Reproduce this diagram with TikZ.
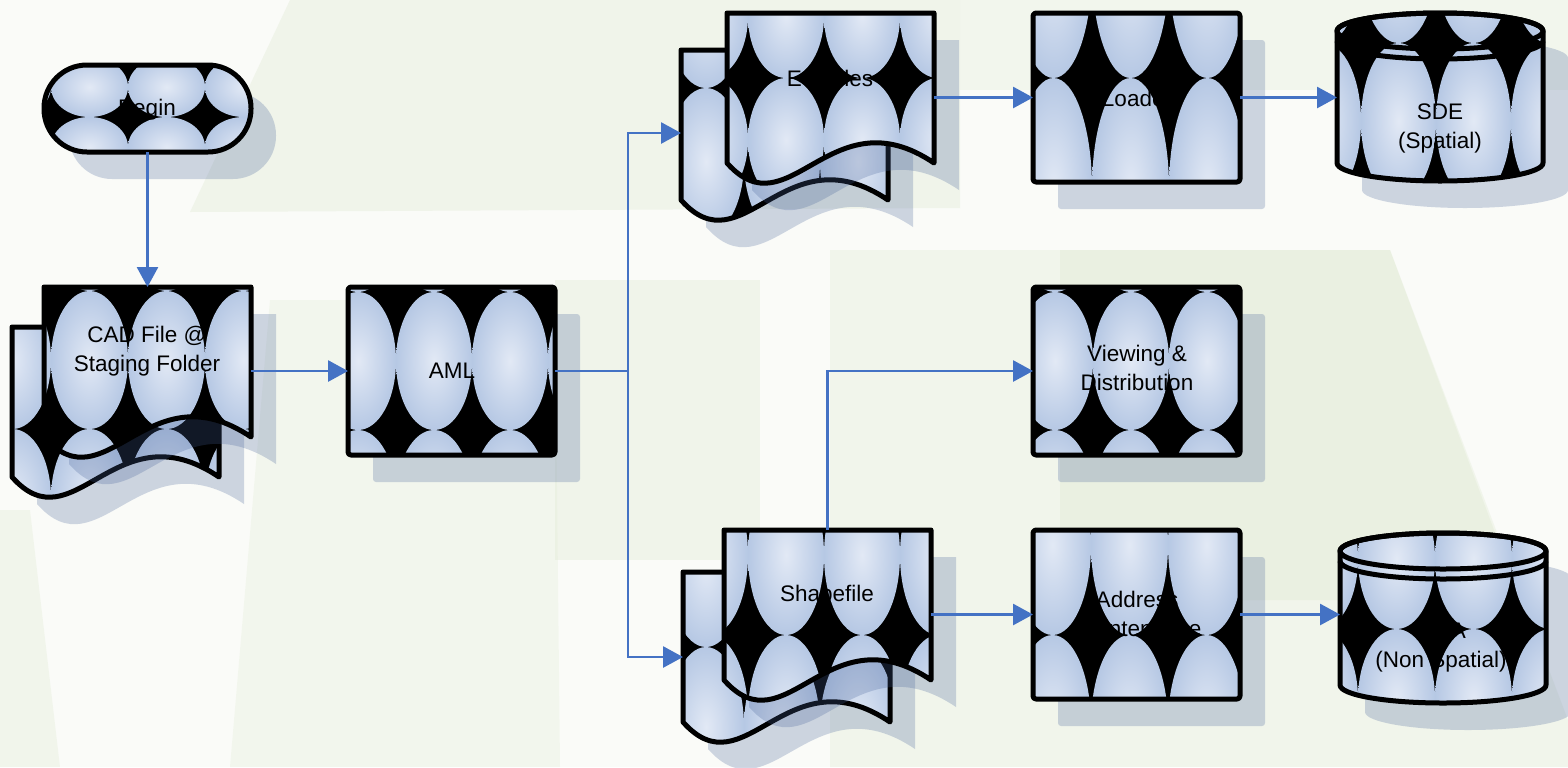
\documentclass[tikz,border=0pt]{standalone}
\usepackage{fontspec}
\setmainfont{Liberation Sans}
\usetikzlibrary{arrows.meta}
\definecolor{patin}{RGB}{226,233,245}
\definecolor{patout}{RGB}{182,200,228}
\definecolor{conblue}{RGB}{68,114,196}
\definecolor{shadc}{RGB}{68,96,152}
\definecolor{bgbase}{RGB}{250,251,248}
\definecolor{bggreen}{RGB}{222,233,208}
\tikzset{
  shad/.style={fill=shadc,fill opacity=0.25,draw=none},
  outl/.style={draw=black,line width=2.5pt,line join=round},
  anc/.style={inner sep=0pt,outer sep=0pt,draw=none},
  txt/.style={font=\fontsize{11.25}{14.5}\selectfont,align=center,inner sep=0pt,text=black},
  conn/.style={draw=conblue,line width=1.4pt,-{Triangle[length=10pt,width=10.5pt]}},
  bgpatch/.style={fill=bggreen,draw=none}
}
% grid of shaded ellipses on black: x0,y0,w,h,nx,ny
\newcommand{\patgrid}[6]{%
  \fill[black] (-50,-50) rectangle (1650,850);
  \foreach \ii in {1,...,#5}{\foreach \jj in {1,...,#6}{%
    \shade[inner color=patin,outer color=patout] ({#1+(\ii-0.5)*#3},{#2+(\jj-0.5)*#4}) ellipse[x radius={#3/2},y radius={#4/2}];}}}
% shadow + patterned fill + outline
\newcommand{\patshape}[7]{%
  \fill[shad,shift={(25,27)}] #1;
  \begin{scope}\clip #1;\patgrid{#2}{#3}{#4}{#5}{#6}{#7}\end{scope}
  \draw[outl] #1;}
\def\docpath#1#2#3{(#1,#2) -- ({#1+207},#2) -- ({#1+207},#3) .. controls ({#1+103.5},{#3-70}) and ({#1+62},{#3+70}) .. (#1,#3) -- cycle}
\def\boxpath#1#2#3#4{[rounded corners=1.5pt] (#1,#2) rectangle (#3,#4)}
\def\termpath{[rounded corners=21.5pt] (44,65) rectangle (251,152)}
\def\cylpath#1#2#3{({#1-103},#2) arc[start angle=180,end angle=360,x radius=103,y radius=18] -- ({#1+103},#3) arc[start angle=0,end angle=180,x radius=103,y radius=18] -- cycle}
\begin{document}
\begin{tikzpicture}[x=0.5pt,y=-0.5pt]
\useasboundingbox (0,0) rectangle (1568,767);
% background
\fill[bgbase] (0,0) rectangle (1568,767);
\fill[bgpatch,opacity=0.35] (290,0) -- (960,0) -- (960,208) -- (190,212) -- cycle;
\fill[bgpatch,opacity=0.25] (960,0) -- (1568,0) -- (1568,90) -- (960,90) -- cycle;
\fill[bgpatch,opacity=0.3] (830,250) -- (1390,250) -- (1568,720) -- (1568,767) -- (830,767) -- cycle;
\fill[bgpatch,opacity=0.35] (1060,250) -- (1390,250) -- (1520,600) -- (1060,600) -- cycle;
\fill[bgpatch,opacity=0.35] (555,280) -- (760,280) -- (760,560) -- (555,560) -- cycle;
\fill[bgpatch,opacity=0.25] (270,300) -- (555,300) -- (560,767) -- (230,767) -- cycle;
\fill[bgpatch,opacity=0.3] (0,510) -- (30,510) -- (60,767) -- (0,767) -- cycle;

% shapes
\patshape{\termpath}{-26}{57}{77}{60}{4}{2}
\patshape{\docpath{12}{327}{477}}{-26}{153}{77}{138}{4}{3}
\patshape{\docpath{44}{287}{437}}{-26}{153}{77}{138}{4}{3}
\patshape{\boxpath{348}{287}{555}{455}}{320}{154}{76}{138}{4}{3}
\patshape{\docpath{681}{50}{200}}{668}{-59}{76}{147}{3}{3}
\patshape{\docpath{727}{13}{163}}{672}{-46}{76}{124}{4}{3}
\patshape{\boxpath{1033}{13}{1240}{182}}{1015}{-142}{77}{220}{4}{2}
\patshape{\cylpath{1440}{31}{163}}{1286}{-113}{75}{156}{4}{2}
\draw[outl] (1440,31) ellipse[x radius=103,y radius=18];
\draw[outl] (1337,41) arc[start angle=180,end angle=0,x radius=103,y radius=18];
\patshape{\boxpath{1033}{287}{1240}{455}}{1017}{154}{76}{138}{4}{3}
\patshape{\docpath{683}{572}{722}}{668}{487}{76}{160}{3}{2}
\patshape{\docpath{724}{530}{680}}{672}{475}{76}{160}{4}{2}
\patshape{\boxpath{1033}{530}{1240}{699}}{1014}{455}{77}{180}{4}{2}
\patshape{\cylpath{1443}{551}{685}}{1281}{489}{77}{140}{4}{2}
\draw[outl] (1443,551) ellipse[x radius=103,y radius=18];
\draw[outl] (1340,561) arc[start angle=180,end angle=0,x radius=103,y radius=18];

% anchor nodes for the shapes
\node[anc,minimum width=103.5pt,minimum height=43.5pt] (begin) at (147.5,108.5) {};
\node[anc,minimum width=103.5pt,minimum height=75pt] (cadb) at (115.5,402) {};
\node[anc,minimum width=103.5pt,minimum height=75pt] (cadf) at (147.5,362) {};
\node[anc,minimum width=103.5pt,minimum height=84pt] (aml) at (451.5,371) {};
\node[anc,minimum width=103.5pt,minimum height=75pt] (e00b) at (784.5,125) {};
\node[anc,minimum width=103.5pt,minimum height=75pt] (e00f) at (830.5,88) {};
\node[anc,minimum width=103.5pt,minimum height=84.5pt] (loader) at (1136.5,97.5) {};
\node[anc,minimum width=103pt,minimum height=85pt] (sde) at (1440,97) {};
\node[anc,minimum width=103.5pt,minimum height=84pt] (view) at (1136.5,371) {};
\node[anc,minimum width=103.5pt,minimum height=75pt] (shpb) at (786.5,647) {};
\node[anc,minimum width=103.5pt,minimum height=75pt] (shpf) at (827.5,605) {};
\node[anc,minimum width=103.5pt,minimum height=84.5pt] (addr) at (1136.5,614.5) {};
\node[anc,minimum width=103pt,minimum height=85pt] (ns) at (1443,618) {};

% texts
\node[txt] (tbegin) at (147,110) {Begin};
\node[txt] (tcad) at (147,351) {CAD File @\\Staging Folder};
\node[txt] (taml) at (452,371) {AML};
\node[txt] (te00) at (830,78) {E00 files};
\node[txt] (tload) at (1137,98) {Loader};
\node[txt] (tsde) at (1440,128) {SDE\\(Spatial)};
\node[txt] (tview) at (1137,368) {Viewing \&\\Distribution};
\node[txt] (tshp) at (827,596) {Shapefile};
\node[txt] (taddr) at (1137,614) {Address\\Maintenance};
\node[txt] (tns) at (1441,648) {KIVA\\(Non Spatial)};

% connectors
\coordinate (split) at (628,371);
\coordinate (e00in) at (681,133);
\coordinate (shpin) at (683,657);
\draw[conn] (begin.south) -- (cadf.north);
\draw[conn] (cadf.east |- aml.west) -- (aml.west);
\draw[conn] (aml.east) -- (split) |- (e00in);
\draw[conn] (split) |- (shpin);
\draw[conn] (e00f.east |- loader.west) -- (loader.west);
\draw[conn] (loader.east) -- (sde.west |- loader.east);
\draw[conn] (shpf.north) |- (view.west);
\draw[conn] (shpf.east |- addr.west) -- (addr.west);
\draw[conn] (addr.east) -- (ns.west |- addr.east);
\end{tikzpicture}
\end{document}
